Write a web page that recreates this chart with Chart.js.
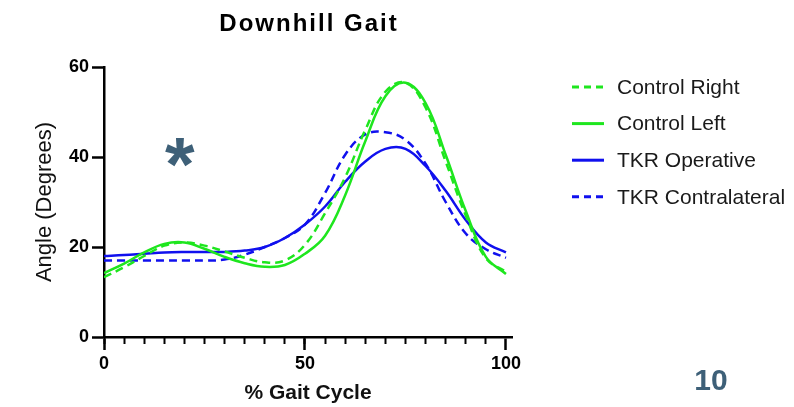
<!DOCTYPE html>
<html>
<head>
<meta charset="utf-8">
<script src="https://cdn.jsdelivr.net/npm/chart.js@4.4.1/dist/chart.umd.min.js"></script>
<style>
  html, body { margin: 0; padding: 0; background: #fff; }
  #wrap { width: 794px; height: 407px; }
</style>
</head>
<body>
<div id="wrap"><canvas id="gaitChart" width="794" height="407"></canvas></div>
<script>
// values (% gait cycle -> knee angle, degrees)
const gaitPct = [0, 5, 10, 15, 20, 25, 30, 35, 40, 45, 50, 55, 60, 65, 70, 75, 80, 85, 90, 95, 100];
const controlRight = [13.3, 15.5, 18, 20.3, 21, 20.3, 19, 17.6, 16.6, 17, 20.5, 27.5, 35.5, 46, 54.5, 56.5, 51, 39, 27, 17.5, 14.5];
const controlLeft = [14.2, 16.3, 18.8, 20.7, 21, 19.6, 17.8, 16.4, 15.6, 16, 18.5, 22.5, 31.5, 43.5, 53.5, 56.5, 52, 40.5, 28, 17.8, 14];
const tkrOperative = [18, 18.2, 18.5, 18.8, 18.9, 18.9, 18.9, 19.2, 20, 22, 25, 29, 34.5, 39, 41.8, 41.8, 38, 32.5, 26, 21, 18.8];
const tkrContralateral = [17, 17, 17, 17, 17, 17, 17.2, 18.3, 20, 22, 25, 32, 40.5, 45, 45.5, 43.8, 38.5, 30, 23, 19.5, 17.6];
const seriesNames = ['Control Right', 'Control Left', 'TKR Operative', 'TKR Contralateral'];
const yTicks = [0, 20, 40, 60];
const xTicks = [0, 50, 100];

const FONT = "'Liberation Sans', Arial, sans-serif";
const GREEN = '#1ee61e';
const BLUE = '#1010ee';

function pts(arr) {
    return arr.map((v, i) => ({ x: gaitPct[i], y: v }));
}

function series(label, values, color, dashed) {
    return {
        label: label,
        data: pts(values),
        borderColor: color,
        backgroundColor: color,
        borderWidth: 2.5,
        borderDash: dashed ? [8, 5] : [],
        pointRadius: 0,
        tension: 0.4,
        fill: false,
        xAxisID: 'x',
        yAxisID: 'y'
    };
}

// title, side legend, asterisk and slide number
const extras = {
    id: 'extras',
    afterDraw(chart) {
        const ctx = chart.ctx;
        ctx.save();

        ctx.fillStyle = '#000';
        ctx.font = 'bold 24px ' + FONT;
        ctx.textAlign = 'center';
        ctx.textBaseline = 'middle';
        ctx.letterSpacing = '2px';
        ctx.fillText('Downhill Gait', 309, 24);
        ctx.letterSpacing = '0px';

        chart.data.datasets.forEach((ds, i) => {
            const y = 87 + i * 36.6;
            ctx.strokeStyle = ds.borderColor;
            ctx.lineWidth = 3;
            ctx.setLineDash(ds.borderDash.length ? [7, 5] : []);
            ctx.beginPath();
            ctx.moveTo(572, y);
            ctx.lineTo(604, y);
            ctx.stroke();
            ctx.setLineDash([]);
            ctx.fillStyle = '#1a1a1a';
            ctx.font = '21px ' + FONT;
            ctx.textAlign = 'left';
            ctx.fillText(ds.label, 617, y + 1);
        });

        ctx.fillStyle = '#3e6078';
        ctx.font = 'bold 76px ' + FONT;
        ctx.textAlign = 'left';
        ctx.textBaseline = 'alphabetic';
        const m = ctx.measureText('*');
        const w = m.actualBoundingBoxRight + m.actualBoundingBoxLeft;
        const h = m.actualBoundingBoxAscent + m.actualBoundingBoxDescent;
        ctx.fillText('*', 180 - w / 2 + m.actualBoundingBoxLeft, 152 - h / 2 + m.actualBoundingBoxAscent);

        ctx.font = 'bold 30px ' + FONT;
        ctx.textAlign = 'center';
        ctx.textBaseline = 'middle';
        ctx.fillText('10', 711, 382);

        ctx.restore();
    }
};

const keepTo100 = s => { s.ticks = s.ticks.filter(t => t.value <= 100); };

new Chart(document.getElementById('gaitChart').getContext('2d'), {
    type: 'line',
    data: {
        datasets: [
            series(seriesNames[0], controlRight, GREEN, true),
            series(seriesNames[1], controlLeft, GREEN, false),
            series(seriesNames[2], tkrOperative, BLUE, false),
            series(seriesNames[3], tkrContralateral, BLUE, true)
        ]
    },
    options: {
        responsive: false,
        animation: false,
        devicePixelRatio: 1,
        layout: { padding: { top: 67, right: 282, bottom: 0, left: 0 } },
        plugins: {
            legend: { display: false },
            title: { display: false },
            tooltip: { enabled: false }
        },
        scales: {
            x: {
                type: 'linear',
                position: 'bottom',
                min: 0,
                max: 101.5,
                afterBuildTicks: s => { s.ticks = xTicks.map(v => ({ value: v })); },
                afterFit: s => { s.height = 70; },
                ticks: {
                    stepSize: 50,
                    maxRotation: 0,
                    color: '#000',
                    padding: 3,
                    font: { family: FONT, size: 18, weight: 'bold' }
                },
                grid: { drawOnChartArea: false, tickLength: 13, tickWidth: 2.5, tickColor: '#000' },
                border: { color: '#000', width: 2.5 },
                title: {
                    display: true,
                    text: '% Gait Cycle',
                    color: '#111',
                    padding: { top: 0, bottom: 1 },
                    font: { family: FONT, size: 21, weight: 'bold' }
                }
            },
            xMinor: {
                type: 'linear',
                axis: 'x',
                position: { y: 0 },
                min: 0,
                max: 101.5,
                afterBuildTicks: keepTo100,
                ticks: { stepSize: 5, display: false },
                grid: { drawOnChartArea: false, tickLength: 7, tickWidth: 2, tickColor: '#000' },
                border: { display: false }
            },
            y: {
                min: 0,
                max: 60,
                afterBuildTicks: s => { s.ticks = yTicks.map(v => ({ value: v })); },
                afterFit: s => { s.width = 104; },
                ticks: {
                    color: '#000',
                    padding: 3,
                    font: { family: FONT, size: 18, weight: 'bold' }
                },
                grid: { drawOnChartArea: false, tickLength: 12, tickWidth: 2.5, tickColor: '#000' },
                border: { color: '#000', width: 2.5 },
                title: {
                    display: true,
                    text: 'Angle (Degrees)',
                    color: '#111',
                    padding: { top: 32, bottom: 0 },
                    font: { family: FONT, size: 22 }
                }
            }
        }
    },
    plugins: [extras]
});
</script>
</body>
</html>
